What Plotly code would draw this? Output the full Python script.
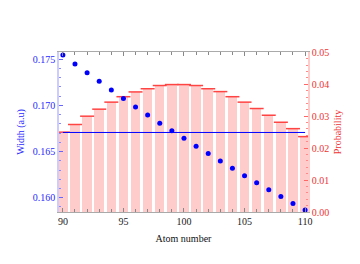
import plotly.graph_objects as go

atoms = list(range(90, 111))
probability = [0.0250, 0.0274, 0.0300, 0.0322, 0.0344, 0.0361, 0.0376, 0.0386, 0.0396, 0.0399,
               0.0399, 0.0396, 0.0386, 0.0377, 0.0361, 0.0344, 0.0324, 0.0303, 0.0281, 0.0261, 0.0236]
width = [0.17547, 0.17449, 0.17354, 0.17261, 0.17166, 0.17076, 0.16983, 0.16895, 0.16808, 0.16725,
         0.16645, 0.16558, 0.16478, 0.16399, 0.16318, 0.16239, 0.16163, 0.16087, 0.16014, 0.15938, 0.15866]
mean_width = 0.16707

FONT = "Liberation Serif"
BLUE = "#2a2aff"
RED = "#ee3333"

fig = go.Figure()
fig.add_trace(go.Bar(x=atoms, y=probability, width=0.78, marker=dict(color="#ffcccc", line=dict(width=0)),
                     yaxis="y", showlegend=False))
fig.add_trace(go.Scatter(x=atoms, y=probability, mode="markers", yaxis="y",
                         marker=dict(symbol="line-ew", size=10, line=dict(color="#ff4444", width=1.5)),
                         showlegend=False))
fig.add_trace(go.Scatter(x=[atoms[0], atoms[-1]], y=[mean_width, mean_width], mode="lines", yaxis="y2",
                         line=dict(color="#0000ff", width=1), showlegend=False))
fig.add_trace(go.Scatter(x=atoms, y=width, mode="markers", yaxis="y2",
                         marker=dict(color="#0000ff", size=5), showlegend=False))

fig.update_layout(
    width=352, height=256,
    margin=dict(l=43, r=52, t=44, b=52),
    paper_bgcolor="white", plot_bgcolor="white",
    font=dict(family=FONT, size=10),
    bargap=0,
    xaxis=dict(range=[89.68, 110.24], tickmode="linear", tick0=90, dtick=5,
               ticks="inside", ticklen=4, tickcolor="#888888",
               minor=dict(dtick=1, ticks="inside", ticklen=3, tickcolor="#888888"),
               showline=True, linecolor="#aaaaaa", linewidth=1, mirror="ticks",
               showgrid=False, zeroline=False,
               tickfont=dict(color="#222222", size=10, family=FONT),
               title=dict(text="Atom number", font=dict(color="#111111", size=10, family=FONT), standoff=8)),
    yaxis=dict(side="right", range=[0, 0.0501], tickmode="linear", tick0=0, dtick=0.01,
               tickformat=".2f",
               ticks="inside", ticklen=4, tickcolor="#ff6666",
               minor=dict(dtick=0.002, ticks="inside", ticklen=2, tickcolor="#ff8888"),
               showline=True, linecolor="#ffcccc", linewidth=1.5,
               showgrid=False, zeroline=False,
               tickfont=dict(color=RED, size=10, family=FONT),
               title=dict(text="Probability", font=dict(color=RED, size=10, family=FONT), standoff=6)),
    yaxis2=dict(overlaying="y", side="left", range=[0.15845, 0.17579], tickmode="linear", tick0=0.160, dtick=0.005,
                tickformat=".3f",
                ticks="inside", ticklen=4, tickcolor="#6666ff",
                minor=dict(dtick=0.001, ticks="inside", ticklen=2, tickcolor="#8888ff"),
                showline=True, linecolor="#ccccff", linewidth=1.5,
                showgrid=False, zeroline=False,
                tickfont=dict(color=BLUE, size=10, family=FONT),
                title=dict(text="Width (a.u)", font=dict(color=BLUE, size=10, family=FONT), standoff=6)),
)

fig.write_html("out.html")
